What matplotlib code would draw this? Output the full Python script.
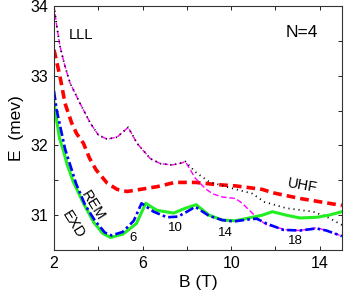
import matplotlib.pyplot as plt

plt.rcParams['font.family'] = ['Liberation Sans', 'DejaVu Sans']

# ---- data ----
# lowest Landau level (LLL), shared by the magenta and black curves up to B~7.9
lll_B = [2.0, 2.12, 2.27, 2.5, 2.73, 2.95, 3.18, 3.64, 4.0, 4.4, 4.85, 5.35,
         5.75, 6.35, 6.8, 7.33, 7.78, 7.93]
lll_E = [34.0, 33.72, 33.42, 33.13, 32.89, 32.75, 32.6, 32.32, 32.15, 32.09,
         32.12, 32.26, 32.03, 31.81, 31.74, 31.72, 31.75, 31.77]

mag_B = [8.38, 8.84, 9.14, 9.6, 10.2, 10.5, 10.95, 11.3, 11.6, 12.5, 13.1,
         13.85, 14.3, 15.0]
mag_E = [31.53, 31.38, 31.31, 31.26, 31.24, 31.17, 31.03, 30.93, 30.86, 30.79,
         30.78, 30.82, 30.78, 30.70]

blk_B = [8.38, 9.0, 9.75, 10.35, 10.95, 11.5, 12.5, 13.7, 14.3, 15.0]
blk_E = [31.62, 31.48, 31.41, 31.36, 31.31, 31.19, 31.10, 31.05, 30.98, 30.86]

uhf_B = [2.0, 2.27, 2.5, 2.8, 3.02, 3.33, 3.6, 3.9, 4.4, 4.85, 5.3, 5.9,
         6.67, 7.45, 8.38, 9.3, 10.2, 11.4, 11.9, 13.1, 15.0]
uhf_E = [33.37, 32.99, 32.6, 32.32, 32.17, 32.03, 31.82, 31.65, 31.46, 31.37,
         31.34, 31.37, 31.41, 31.47, 31.47, 31.44, 31.42, 31.37, 31.32, 31.24,
         31.14]

exd_B = [2.0, 2.1, 2.25, 2.42, 2.6, 2.87, 3.33, 3.79, 4.2, 4.55, 5.12, 5.72,
         6.14, 6.65, 7.4, 7.93, 8.42, 9.0, 9.6, 10.2, 10.8, 11.4, 11.86, 12.5,
         13.1, 13.85, 14.4, 15.0]
exd_E = [32.62, 32.4, 32.1, 31.93, 31.72, 31.48, 31.17, 30.9, 30.74, 30.68,
         30.73, 30.88, 31.17, 31.07, 31.03, 31.10, 31.15, 31.0, 30.93, 30.92,
         30.96, 31.0, 31.05, 31.0, 30.96, 30.97, 31.0, 31.05]

rem_B = [2.0, 2.12, 2.35, 2.5, 2.7, 3.0, 3.4, 3.85, 4.3, 4.6, 5.1, 5.6, 5.95,
         6.5, 7.1, 7.6, 8.0, 8.38, 9.0, 9.6, 10.1, 10.8, 11.15, 11.6, 12.35,
         13.1, 13.85, 14.3, 15.0]
rem_E = [32.78, 32.51, 32.17, 31.95, 31.75, 31.45, 31.15, 30.92, 30.75, 30.71,
         30.76, 30.92, 31.17, 31.05, 30.97, 30.98, 31.05, 31.12, 30.99, 30.93,
         30.91, 30.94, 30.95, 30.88, 30.79, 30.78, 30.81, 30.78, 30.70]

# filling factor labels
nu_labels = ['6', '10', '14', '18']
nu_B = [5.58, 7.46, 9.72, 12.88]
nu_E = [30.68, 30.81, 30.75, 30.63]

fig = plt.figure(figsize=(3.44, 2.97), dpi=100)
ax = fig.add_axes([0.157, 0.158, 0.837, 0.822])

ax.plot(uhf_B, uhf_E, color='red', lw=2.6, dashes=(2.4, 1.4))
ax.plot(lll_B + mag_B, lll_E + mag_E, color='magenta', lw=1.0, dashes=(4, 2))
ax.plot(lll_B + blk_B, lll_E + blk_E, color='black', lw=1.3, dashes=(0.6, 2.2))
ax.plot(exd_B, exd_E, color='#22ee22', lw=2.2)
ax.plot(rem_B, rem_E, color='blue', lw=1.9, dashes=(3.5, 1.2, 1, 1.2))

ax.text(3.21, 33.58, 'LLL', fontsize=10.5, ha='center', va='center')
ax.text(13.2, 33.62, 'N=4', fontsize=12.5, ha='center', va='center')
ax.text(13.23, 31.43, 'UHF', fontsize=10.5, ha='center', va='center', rotation=-10)
ax.text(3.77, 31.13, 'REM', fontsize=10.5, ha='center', va='center', rotation=-58)
ax.text(2.87, 30.87, 'EXD', fontsize=10.5, ha='center', va='center', rotation=-58)
for lab, b, e in zip(nu_labels, nu_B, nu_E):
    ax.text(b, e, lab, fontsize=9.5, ha='center', va='center')

ax.set_xlim(2, 15)
ax.set_ylim(30.5, 34)
ax.set_xticks([2, 4, 6, 8, 10, 12, 14])
ax.set_xticklabels(['2', '', '6', '', '10', '', '14'])
ax.set_yticks([30.5, 31, 31.5, 32, 32.5, 33, 33.5, 34])
ax.set_yticklabels(['', '31', '', '32', '', '33', '', '34'])
ax.tick_params(direction='in', top=True, right=True, length=3, width=0.6,
               labelsize=11.5, pad=4)
for sp in ax.spines.values():
    sp.set_linewidth(0.8)
    sp.set_color('#333333')
ax.set_xlabel('B (T)', fontsize=12.5, labelpad=3)
ax.set_ylabel('E  (mev)', fontsize=12.5, labelpad=5)

fig.savefig('out.png', dpi=100)
